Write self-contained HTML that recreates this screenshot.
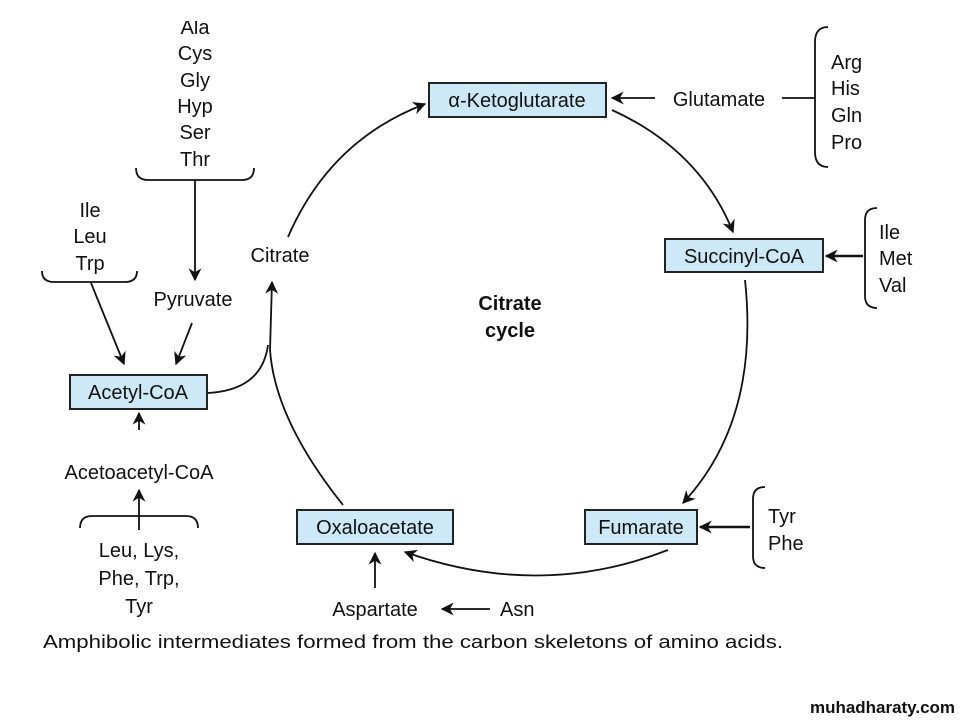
<!DOCTYPE html>
<html><head><meta charset="utf-8"><style>
html,body{margin:0;padding:0;background:#fff;width:960px;height:720px;overflow:hidden}
svg{display:block}
text{font-family:"Liberation Sans",sans-serif;font-size:20px;fill:#111}
.c{text-anchor:middle}
</style></head><body>
<svg width="960" height="720" viewBox="0 0 960 720">
<defs>
<marker id="a" viewBox="0 0 10 10" refX="9" refY="5" markerWidth="13" markerHeight="13" orient="auto" markerUnits="userSpaceOnUse">
<path d="M0,0 L10,5 L0,10 L3,5 z" fill="#111"/></marker>
</defs>
<g fill="#cde9f7" stroke="#222" stroke-width="2">
<rect x="429" y="83" width="177" height="34"/>
<rect x="665" y="239" width="158" height="33"/>
<rect x="585" y="510" width="112" height="34"/>
<rect x="297" y="510" width="156" height="34"/>
<rect x="70" y="375" width="137" height="34"/>
</g>
<text class="c" x="517" y="107">α-Ketoglutarate</text>
<text class="c" x="744" y="263">Succinyl-CoA</text>
<text class="c" x="641" y="534">Fumarate</text>
<text class="c" x="375" y="534">Oxaloacetate</text>
<text class="c" x="138" y="399">Acetyl-CoA</text>
<text x="510" y="310" class="c" style="font-weight:bold">Citrate</text>
<text x="510" y="337" class="c" style="font-weight:bold">cycle</text>
<text class="c" x="280" y="262">Citrate</text>
<text class="c" x="193" y="306">Pyruvate</text>
<text class="c" x="719" y="106">Glutamate</text>
<text class="c" x="139" y="479">Acetoacetyl-CoA</text>
<text class="c" x="375" y="616">Aspartate</text>
<text x="500" y="616">Asn</text>
<text class="c" x="195" y="34">Ala</text><text class="c" x="195" y="60">Cys</text><text class="c" x="195" y="87">Gly</text><text class="c" x="195" y="113">Hyp</text><text class="c" x="195" y="139">Ser</text><text class="c" x="195" y="166">Thr</text>
<rect x="150" y="0" width="90" height="21" fill="#fff"/>
<text class="c" x="90" y="217">Ile</text><text class="c" x="90" y="243">Leu</text><text class="c" x="90" y="270">Trp</text>
<text class="c" x="139" y="557">Leu, Lys,</text><text class="c" x="139" y="585">Phe, Trp,</text><text class="c" x="139" y="613">Tyr</text>
<text x="831" y="69">Arg</text><text x="831" y="95">His</text><text x="831" y="122">Gln</text><text x="831" y="149">Pro</text>
<text x="879" y="239">Ile</text><text x="879" y="265">Met</text><text x="879" y="292">Val</text>
<text x="768" y="523">Tyr</text><text x="768" y="550">Phe</text>
<g fill="none" stroke="#111" stroke-width="1.8">
<path d="M136,168 Q136,180 148,180 L242,180 Q254,180 254,168"/>
<path d="M42,271 Q42,282 54,282 L125,282 Q137,282 137,271"/>
<path d="M80,528 Q80,516 92,516 L186,516 Q198,516 198,528"/>
<path d="M828,27 Q815,27 815,42 L815,152 Q815,167 828,167"/>
<path d="M877,208 Q865,208 865,220 L865,296 Q865,308 877,308"/>
<path d="M765,487 Q753,487 753,499 L753,556 Q753,568 765,568"/>
<path d="M782,98 L815,98"/>
<path d="M655,98 L612,98" marker-end="url(#a)"/>
<path d="M863,256 L826,256" marker-end="url(#a)" stroke-width="2.4"/>
<path d="M750,527 L700,527" marker-end="url(#a)" stroke-width="2.4"/>
<path d="M490,609 L442,609" marker-end="url(#a)"/>
<path d="M375,588 L375,553" marker-end="url(#a)"/>
<path d="M139,430 L139,413" marker-end="url(#a)"/>
<path d="M139,530 L139,490" marker-end="url(#a)"/>
<path d="M195,180 L195,280" marker-end="url(#a)"/>
<path d="M192,323 L176,364" marker-end="url(#a)"/>
<path d="M91,283 L124,364" marker-end="url(#a)"/>
<path d="M288,237 Q330,140 425,104" marker-end="url(#a)"/>
<path d="M612,110 Q700,150 733,232" marker-end="url(#a)"/>
<path d="M745,280 Q760,420 683,503" marker-end="url(#a)"/>
<path d="M668,550 Q540,600 405,552" marker-end="url(#a)"/>
<path d="M343,505 Q275,420 270,350 L272,282" marker-end="url(#a)"/>
<path d="M208,393 Q262,390 268,345"/>
</g>
<text x="43" y="648" textLength="740" lengthAdjust="spacingAndGlyphs" style="font-size:18px">Amphibolic intermediates formed from the carbon skeletons of amino acids.</text>
<text x="810" y="713" textLength="145" lengthAdjust="spacingAndGlyphs" style="font-size:17px;font-weight:bold">muhadharaty.com</text>
</svg>
</body></html>
